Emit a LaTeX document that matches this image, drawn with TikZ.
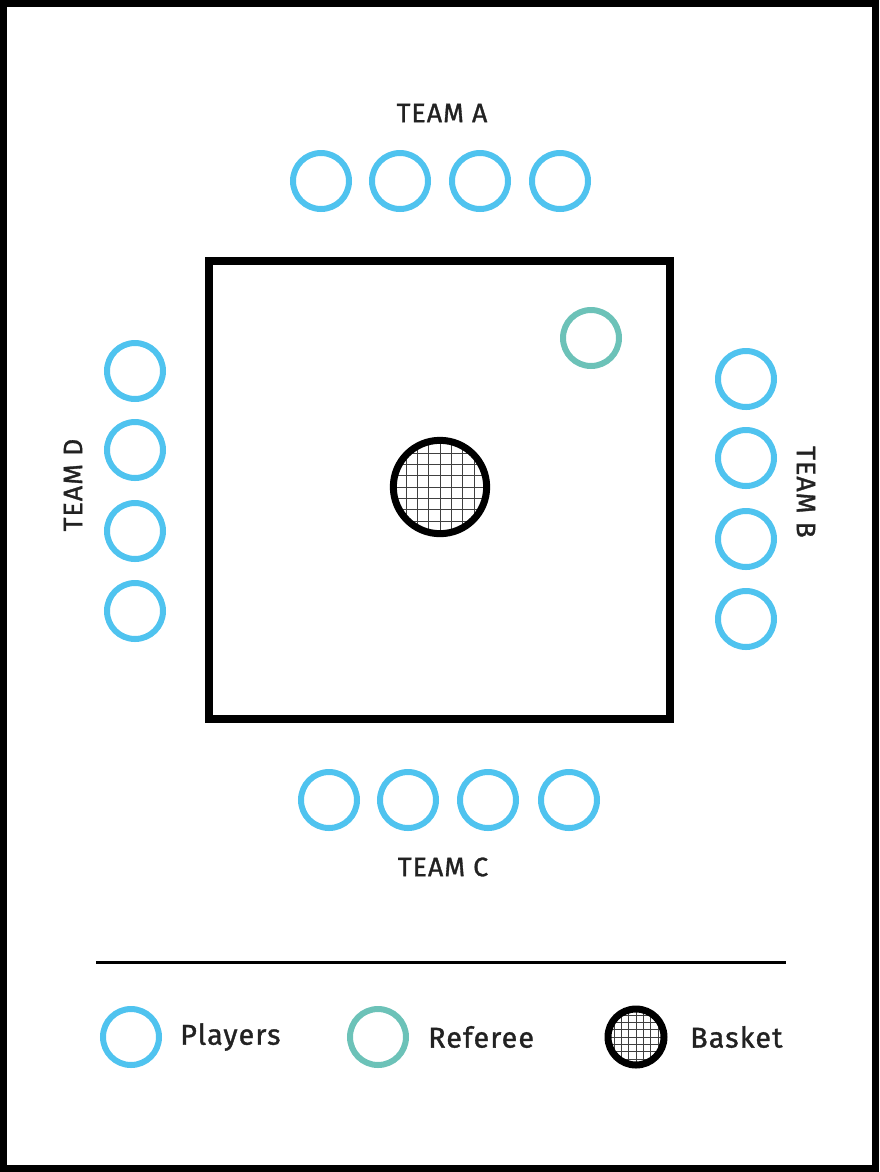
\documentclass[tikz,border=0pt]{standalone}
\usepackage{fontspec}
\setmainfont{Fira Sans}
\newfontfamily\labelfont[LetterSpace=4, FakeBold=1.2]{Fira Sans}
\definecolor{playerblue}{HTML}{4FC3EF}
\definecolor{refteal}{HTML}{6CC2B8}
\definecolor{inkgray}{HTML}{222222}
\tikzset{
    player/.style={circle, draw=playerblue, line width=4.5pt, minimum size=42pt, inner sep=0pt},
    referee/.style={circle, draw=refteal, line width=4.5pt, minimum size=42pt, inner sep=0pt},
    basket/.style={circle, draw=black, line width=5.25pt, minimum size=#1, inner sep=0pt,
        path picture={\draw[black!75, line width=0.6pt, step=8.5pt]
            ([shift={(-1pt,-1pt)}]path picture bounding box.south west) grid
            (path picture bounding box.north east);}},
    basket/.default=70pt,
    teamlabel/.style={font=\labelfont\fontsize{20}{22}\selectfont, text=inkgray, inner sep=0pt},
    legendlabel/.style={font=\labelfont\fontsize{21.5}{24}\selectfont, text=inkgray, anchor=west, inner sep=0pt}
}
\begin{document}
\begin{tikzpicture}[x=0.75pt, y=-0.75pt]
    \useasboundingbox (0,0) rectangle (879,1172);
    % Frame
    \draw[line width=5.25pt] (3.5,3.5) rectangle (875.5,1168.5);

    % Court
    \draw[line width=6pt] (209,261) rectangle (670,719);
    \node[basket] (basket) at (440,487) {};
    \node[referee] (ref) at (591,338) {};

    % Team A (top) and Team C (bottom)
    \foreach \i/\x in {1/321, 2/400, 3/480, 4/560}
        \node[player] (a\i) at (\x,181) {};
    \foreach \i/\x in {1/329, 2/408, 3/488, 4/569}
        \node[player] (c\i) at (\x,800) {};

    % Team D (left) and Team B (right)
    \foreach \i/\y in {1/371, 2/450, 3/531, 4/611}
        \node[player] (d\i) at (135,\y) {};
    \foreach \i/\y in {1/379, 2/458, 3/539, 4/619}
        \node[player] (b\i) at (746,\y) {};

    % Team names
    \node[teamlabel] (teamA) at (442,113) {TEAM A};
    \node[teamlabel] (teamC) at (443,867) {TEAM C};
    \node[teamlabel, rotate=90] (teamD) at (73,485) {TEAM D};
    \node[teamlabel, rotate=-90] (teamB) at (806,492) {TEAM B};

    % Legend
    \draw[line width=2.25pt] (96,962) -- (786,962);
    \node[player] (keyplayer) at (131,1037) {};
    \node[legendlabel] (keyplayertext) at (180,1037) {Players};
    \node[referee] (keyref) at (378,1037) {};
    \node[legendlabel] (keyreftext) at (428,1037) {Referee};
    \node[basket=42pt, path picture={\draw[black!75, line width=0.5pt, step=5.5pt]
        ([shift={(-1pt,-1pt)}]path picture bounding box.south west) grid
        (path picture bounding box.north east);}] (keybasket) at (636,1037) {};
    \node[legendlabel] (keybaskettext) at (690,1037) {Basket};
\end{tikzpicture}
\end{document}
